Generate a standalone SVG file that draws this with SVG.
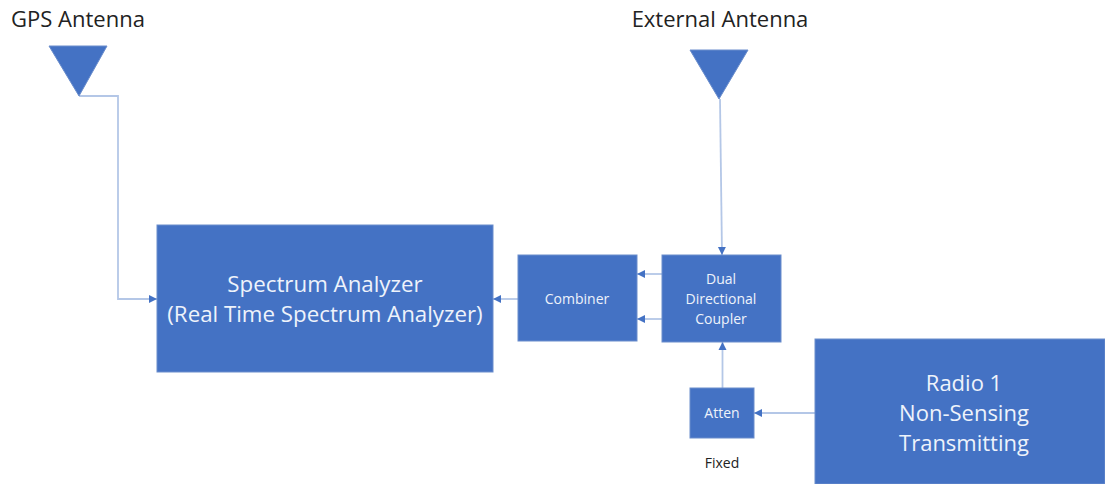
<svg xmlns="http://www.w3.org/2000/svg" width="1105" height="484" viewBox="0 0 1105 484">
<style>
.b{fill:#4472c4;stroke:#6a8dcc;stroke-width:1}
.w{fill:#eef3fb;font-family:"Open Sans","Noto Sans",sans-serif;text-anchor:middle}
.k{fill:#222;font-family:"Open Sans","Noto Sans",sans-serif;text-anchor:middle}
.c{fill:none;stroke:#b4c7e7;stroke-width:1.8}
</style>
<defs><marker id="a" markerUnits="userSpaceOnUse" markerWidth="9" markerHeight="9" refX="8" refY="4.5" orient="auto"><path d="M0 0.5L8 4.5L0 8.5z" fill="#4472c4"/></marker></defs>
<rect width="1105" height="484" fill="#fff"/>
<g id="connectors">
<path class="c" d="M79 96H118V299H157" marker-end="url(#a)"/>
<path class="c" d="M720 99L722 255" marker-end="url(#a)"/>
<path class="c" d="M518 299H493" marker-end="url(#a)"/>
<path class="c" d="M662 274H637" marker-end="url(#a)"/>
<path class="c" d="M662 319H637" marker-end="url(#a)"/>
<path class="c" d="M722.500 388V342" marker-end="url(#a)"/>
<path class="c" d="M815 413H754" marker-end="url(#a)"/>
</g>
<g id="gps-antenna"><path class="b" d="M49 46H107L79 96z"/><text class="k" x="78" y="27" font-size="22">GPS Antenna</text></g>
<g id="external-antenna"><path class="b" d="M690 50H748L719 99z"/><text class="k" x="720" y="27" font-size="22">External Antenna</text></g>
<g id="spectrum-analyzer"><rect class="b" x="157" y="225" width="336" height="147"/><text class="w" x="325" y="292" font-size="22.300">Spectrum Analyzer</text><text class="w" x="325" y="322" font-size="22.300">(Real Time Spectrum Analyzer)</text></g>
<g id="combiner"><rect class="b" x="518" y="255" width="119" height="86"/><text class="w" x="577" y="304" font-size="14">Combiner</text></g>
<g id="coupler"><rect class="b" x="662" y="255" width="119" height="87"/><text class="w" x="721" y="284" font-size="14">Dual</text><text class="w" x="721" y="304" font-size="14">Directional</text><text class="w" x="721" y="324" font-size="14">Coupler</text></g>
<g id="atten"><rect class="b" x="690" y="388" width="64" height="50"/><text class="w" x="722" y="418" font-size="14">Atten</text></g>
<g id="radio"><rect class="b" x="815" y="339" width="290" height="145"/><text class="w" x="964" y="391" font-size="22">Radio 1</text><text class="w" x="964" y="421" font-size="22">Non-Sensing</text><text class="w" x="964" y="451" font-size="22">Transmitting</text></g>
<text class="k" x="722" y="468" font-size="14">Fixed</text>
</svg>
